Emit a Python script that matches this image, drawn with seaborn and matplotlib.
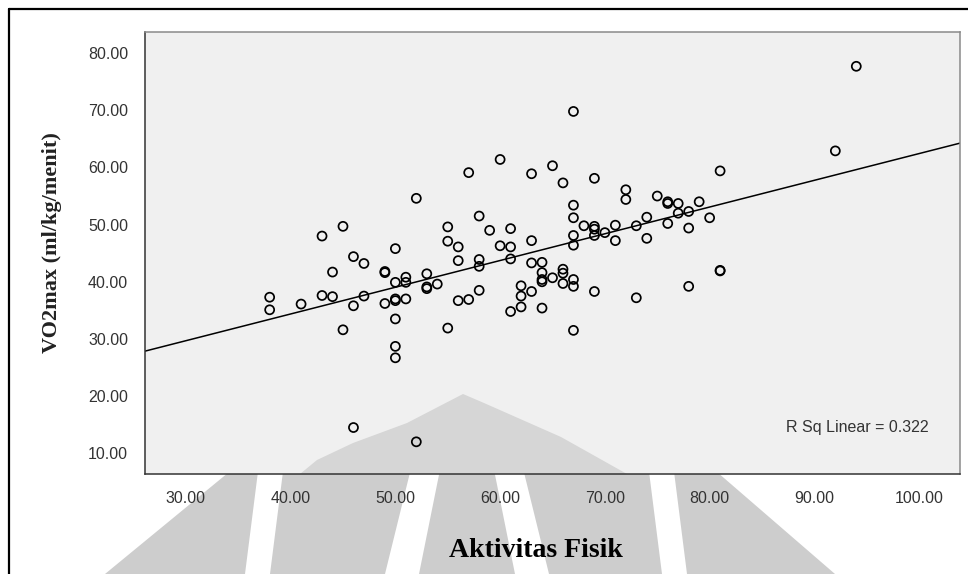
import matplotlib
matplotlib.use("Agg")
import numpy as np
import pandas as pd
import matplotlib.pyplot as plt
import seaborn as sns
from matplotlib.patches import Polygon
from matplotlib.lines import Line2D
from matplotlib.transforms import IdentityTransform

# ---- data -------------------------------------------------------------
aktivitas = [
    38, 38, 41, 43, 43, 44, 44, 45, 45, 46, 46, 46, 47, 47,
    49, 49, 49, 50, 50, 50, 50, 50, 50, 50, 51, 51, 51, 52, 52,
    53, 53, 53, 54, 55, 55, 55, 56, 56, 56, 57, 57,
    58, 58, 58, 58, 59, 60, 60, 61, 61, 61, 61, 62, 62, 62,
    63, 63, 63, 63, 64, 64, 64, 64, 64, 65, 65, 66, 66, 66, 66,
    67, 67, 67, 67, 67, 67, 67, 67, 68, 69, 69, 69, 69, 69, 70,
    71, 71, 72, 72, 73, 73, 74, 74, 75, 76, 76, 76, 77, 77,
    78, 78, 78, 79, 80, 81, 81, 81, 92, 94,
]
vo2max = [
    37.3, 35.1, 36.1, 48.0, 37.6, 41.7, 37.4, 49.7, 31.6, 44.4, 35.8, 14.5, 43.2, 37.5,
    41.8, 41.6, 36.2, 45.8, 39.9, 37.0, 36.7, 33.5, 28.7, 26.7, 40.8, 39.9, 37.0, 54.6, 12.0,
    41.4, 39.1, 38.8, 39.6, 49.6, 47.1, 31.9, 46.1, 43.7, 36.7, 59.1, 36.9,
    51.5, 43.9, 42.7, 38.5, 49.0, 61.4, 46.3, 49.3, 46.1, 44.0, 34.8, 39.3, 37.5, 35.6,
    58.9, 47.2, 43.3, 38.3, 43.4, 41.6, 40.4, 40.0, 35.4, 60.3, 40.7, 57.3, 42.2, 41.5, 39.7,
    69.8, 53.4, 51.2, 48.1, 46.4, 40.4, 39.2, 31.5, 49.8, 58.1, 49.7, 49.2, 48.1, 38.3, 48.6,
    49.9, 47.2, 56.1, 54.4, 49.8, 37.2, 51.3, 47.6, 55.0, 54.0, 53.7, 50.2, 53.7, 52.0,
    52.3, 49.4, 39.2, 54.0, 51.2, 59.4, 42.0, 41.9, 62.9, 77.7,
]
x_ticks = [30, 40, 50, 60, 70, 80, 90, 100]
y_ticks = [10, 20, 30, 40, 50, 60, 70, 80]
r_sq_linear = 0.322

x_name = "Aktivitas Fisik"
y_name = "VO2max (ml/kg/menit)"
df = pd.DataFrame({x_name: aktivitas, y_name: vo2max})

# ---- style ------------------------------------------------------------
sns.set_style("white")
plt.rcParams["font.family"] = ["Liberation Sans", "DejaVu Sans"]

W, H = 968, 574
fig = plt.figure(figsize=(W / 100, H / 100), dpi=100)
fig.patch.set_facecolor("white")


def disp(pts):
    """Pixel positions measured from the top-left corner -> display coords."""
    return [(x, H - y) for x, y in pts]


# faint university emblem printed on the page behind the chart
emblem_gray = "#cdcdcd"
outer = disp([(105, 574), (268, 440), (680, 440), (835, 574)])
fig.add_artist(Polygon(outer, closed=True, transform=IdentityTransform(),
                       facecolor=emblem_gray, edgecolor="none", zorder=-5))
bands = [
    [(262, 440), (287, 440), (270, 574), (245, 574)],
    [(418, 440), (446, 440), (419, 574), (385, 574)],
    [(488, 440), (516, 440), (549, 574), (515, 574)],
    [(645, 440), (670, 440), (687, 574), (662, 574)],
]
for b in bands:
    fig.add_artist(Polygon(disp(b), closed=True, transform=IdentityTransform(),
                           facecolor="white", edgecolor="none", zorder=-4))

# ---- axes -------------------------------------------------------------
ax_l, ax_r, ax_t, ax_b = 145, 960, 32, 474
ax = fig.add_axes([ax_l / W, 1 - ax_b / H, (ax_r - ax_l) / W, (ax_b - ax_t) / H])
ax.set_facecolor("#f0f0f0")
ax.set_xlim(26.1, 103.9)
ax.set_ylim(6.37, 83.7)

# top of the emblem showing through the plot area
dome = disp([(300, 474), (317, 460), (353, 443), (407, 423), (463, 394),
             (484, 403), (561, 437), (627, 474)])
ax.add_patch(Polygon(dome, closed=True, transform=IdentityTransform(),
                     facecolor="#d6d6d6", edgecolor="none", zorder=0.5))

sns.regplot(
    data=df, x=x_name, y=y_name, ax=ax, ci=None, truncate=False,
    scatter_kws=dict(s=42, facecolors="none", edgecolors="black",
                     linewidths=1.25, alpha=1, zorder=3),
    line_kws=dict(color="black", lw=1.1, zorder=2),
)

ax.set_xticks(x_ticks)
ax.set_xticklabels([f"{v:.2f}" for v in x_ticks])
ax.set_yticks(y_ticks)
ax.set_yticklabels([f"{v:.2f}" for v in y_ticks])
ax.tick_params(axis="both", direction="out", length=8.6, width=1.0,
               color="#333333", labelsize=11.5, labelcolor="#333333", pad=3.6)

for side in ("left", "bottom"):
    ax.spines[side].set_color("#333333")
    ax.spines[side].set_linewidth(1.1)
for side in ("top", "right"):
    ax.spines[side].set_color("#8a8a8a")
    ax.spines[side].set_linewidth(1.1)

ax.set_xlabel(x_name, family=["Liberation Serif", "DejaVu Serif"],
              fontweight="bold", fontsize=20, color="black")
ax.xaxis.label.set_va("baseline")
ax.xaxis.set_label_coords((536 - ax_l) / (ax_r - ax_l), (ax_b - 557) / (ax_b - ax_t))

ax.set_ylabel(y_name, family=["Liberation Serif", "DejaVu Serif"],
              fontweight="bold", fontsize=16, color="#222222")
ax.yaxis.label.set_va("center")
ax.yaxis.set_label_coords((52 - ax_l) / (ax_r - ax_l), (ax_b - 243) / (ax_b - ax_t))

ax.text(0.961, 0.105, f"R Sq Linear = {r_sq_linear:.3f}", transform=ax.transAxes,
        ha="right", va="center", fontsize=11.5, color="#333333")

# page frame lines
fig.add_artist(Line2D([9 / W, 1], [1 - 9 / H, 1 - 9 / H], transform=fig.transFigure,
                      color="black", lw=1.6))
fig.add_artist(Line2D([9 / W, 9 / W], [0, 1 - 9 / H], transform=fig.transFigure,
                      color="black", lw=1.6))

fig.savefig("out.png", dpi=100)
